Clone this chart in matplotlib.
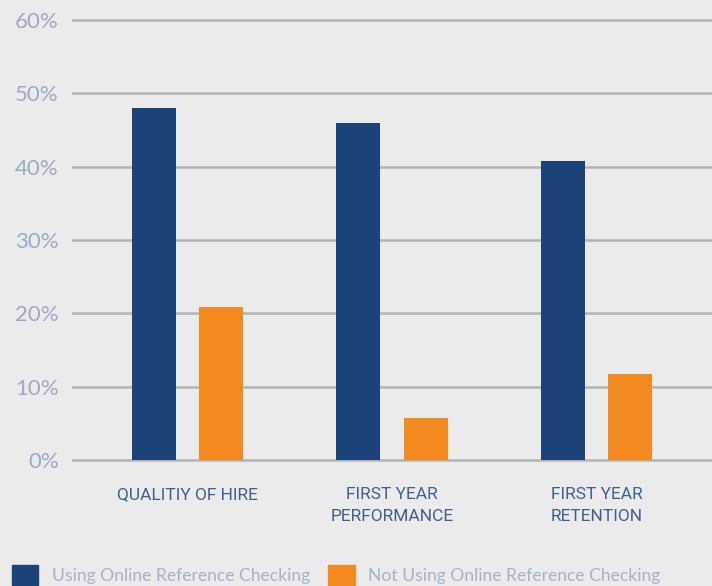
import numpy as np
import matplotlib.pyplot as plt
from matplotlib.patches import Patch

categories = ['QUALITIY OF HIRE', 'FIRST YEAR\nPERFORMANCE', 'FIRST YEAR\nRETENTION']
using = [48.0, 46.0, 40.8]
not_using = [20.9, 5.7, 11.7]
yticks = [0, 10, 20, 30, 40, 50, 60]
series_names = ['Using Online Reference Checking', 'Not Using Online Reference Checking']

navy = '#1b4279'
orange = '#f28a20'
bg = '#ebebeb'

fig = plt.figure(figsize=(7.12, 5.86), dpi=100, facecolor=bg)
W, H = 712, 586
y0_px, y60_px = 460, 20
ppu = (y0_px - y60_px) / 60
ylo, yhi = -0.5, 61
bottom_px = y0_px + (0 - ylo) * ppu
top_px = y60_px - (yhi - 60) * ppu
ax = fig.add_axes([72 / W, (H - bottom_px) / H, 1 - 72 / W, (bottom_px - top_px) / H])
ax.set_facecolor(bg)

x = np.arange(len(categories))
width = 0.215
off = 0.164
ax.bar(x - off, using, width, color=navy, zorder=3)
ax.bar(x + off, not_using, width, color=orange, zorder=3)

ax.set_xlim(-0.565, 2.565)
ax.set_ylim(ylo, yhi)
for v in yticks:
    ax.axhline(v, color='#b4b4b4', lw=1.8, zorder=1)

ax.set_yticks(yticks)
ax.set_yticklabels([f'{v}%' for v in yticks], family='Lato', fontweight='normal',
                   fontsize=16, color='#9aabc6')
ax.tick_params(axis='y', length=0, pad=9.5)
ax.set_xticks(x)
ax.set_xticklabels(categories, family='Roboto', fontsize=12.5, color='#3f5f8f',
                   linespacing=1.55, va='top')
ax.tick_params(axis='x', length=0, pad=17)
for s in ax.spines.values():
    s.set_visible(False)

handles = [Patch(color=navy), Patch(color=orange)]
fig.legend(handles, series_names, loc='center left', bbox_to_anchor=(12 / W, 11 / H),
           ncol=2, frameon=False, borderpad=0, borderaxespad=0,
           handlelength=1.5, handleheight=1.38, handletextpad=0.78, columnspacing=1.05,
           prop={'family': 'Lato', 'weight': 'normal', 'size': 12.6}, labelcolor='#a3b3cb')

fig.savefig('out.png', dpi=100, facecolor=bg)
